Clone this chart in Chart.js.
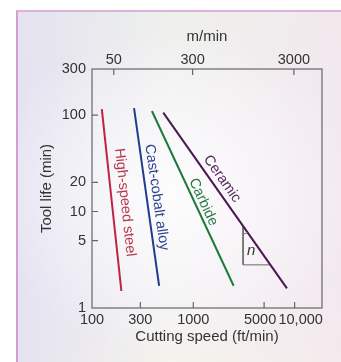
<!DOCTYPE html>
<html>
<head>
<meta charset="utf-8">
<script src="https://cdn.jsdelivr.net/npm/chart.js@4.4.1/dist/chart.umd.min.js"></script>
<style>
html,body{margin:0;padding:0;background:#fff;}
#wrap{position:relative;width:341px;height:362px;overflow:hidden;}
#bg{position:absolute;left:16px;top:10px;width:345px;height:362px;box-sizing:border-box;
  border-left:2px solid #d2a0d0;border-top:2px solid #dcb2da;
  background:
    radial-gradient(ellipse 55% 45% at 45% 50%, rgba(255,255,255,0.85), rgba(255,255,255,0) 100%),
    linear-gradient(to right, rgba(226,224,240,0.85), rgba(240,238,244,0.2) 45%, rgba(243,228,238,0.7)),
    linear-gradient(to bottom, #eef1ea 0%, #f1eff3 40%, #f3f1f2 80%, #f6f5e9 100%);
}
canvas{position:absolute;left:0;top:0;}
</style>
</head>
<body>
<div id="wrap"><div id="bg"></div><canvas id="c" width="341" height="362"></canvas></div>
<script>
// ---- data ----
const seriesNames = ['High-speed steel', 'Cast-cobalt alloy', 'Carbide', 'Ceramic'];
const hssSpeed = [125, 195];        const hssLife = [115, 1.5];
const castSpeed = [260, 460];       const castLife = [118, 1.7];
const carbideSpeed = [390, 2500];   const carbideLife = [110, 1.7];
const ceramicSpeed = [505, 8400];   const ceramicLife = [106, 1.6];
const slopeSpeed = [3100, 3100, 5790];
const slopeLife = [7.1, 2.8, 2.8];
const ftTicks = [100, 300, 1000, 5000, 10000];
const mTicks = [50, 300, 3000];
const lifeTicks = [1, 5, 10, 20, 100, 300];
const speedMin = 100, speedMax = 18640;
const lifeMin = 1, lifeMax = 300;
const ftPerM = 3.2808;

// ---- styles ----
const lineColors = ['#bf2340', '#1f3c8e', '#1d7a3b', '#4b1553'];
const textColors = ['#b8374c', '#2d438e', '#2a7944', '#5a2b60'];
const labelT = [0.52, 0.51, 0.54, 0.41];
const labelOffset = [13, 10, 8, 10];
const FONT = 'Liberation Sans, Arial, sans-serif';

const speeds = [hssSpeed, castSpeed, carbideSpeed, ceramicSpeed];
const lives = [hssLife, castLife, carbideLife, ceramicLife];

const datasets = speeds.map((s, i) => ({
  label: seriesNames[i],
  data: s.map((v, k) => ({x: v, y: lives[i][k]})),
  borderColor: lineColors[i],
  borderWidth: 2,
  pointRadius: 0,
  tension: 0,
  xAxisID: 'x', yAxisID: 'y'
}));
datasets.push({
  label: 'slope',
  data: slopeSpeed.map((v, k) => ({x: v, y: slopeLife[k]})),
  borderColor: '#6a6a6a',
  borderWidth: 1,
  pointRadius: 0,
  tension: 0,
  xAxisID: 'x', yAxisID: 'y'
});

const fixTicks = arr => (scale) => { scale.ticks = arr.map(v => ({value: v})); };
const fmt = v => String(v);
const fmtFt = v => v === 10000 ? '   10,000' : (v === 5000 ? '5000  ' : String(v));

const deco = {
  id: 'deco',
  afterDatasetsDraw(chart) {
    const {ctx, chartArea: a, scales} = chart;
    const x = scales.x, y = scales.y, xm = scales.xm;
    ctx.save();
    // frame
    ctx.strokeStyle = '#666';
    ctx.lineWidth = 1.2;
    ctx.strokeRect(a.left, a.top, a.right - a.left, a.bottom - a.top);
    // inward tick marks
    ctx.beginPath();
    ftTicks.forEach(v => { if (v === speedMin) return; const p = x.getPixelForValue(v); ctx.moveTo(p, a.bottom); ctx.lineTo(p, a.bottom - 6); });
    mTicks.forEach(v => { const p = xm.getPixelForValue(v); ctx.moveTo(p, a.top); ctx.lineTo(p, a.top + 6); });
    lifeTicks.forEach(v => { if (v === lifeMin || v === lifeMax) return; const p = y.getPixelForValue(v); ctx.moveTo(a.left, p); ctx.lineTo(a.left + 6, p); });
    ctx.stroke();

    // series labels along the lines
    ctx.font = '14.5px ' + FONT;
    ctx.textAlign = 'center';
    ctx.textBaseline = 'middle';
    speeds.forEach((s, i) => {
      const x1 = x.getPixelForValue(s[0]), y1 = y.getPixelForValue(lives[i][0]);
      const x2 = x.getPixelForValue(s[1]), y2 = y.getPixelForValue(lives[i][1]);
      const dx = x2 - x1, dy = y2 - y1, len = Math.hypot(dx, dy);
      const fx = x1 + dx * labelT[i], fy = y1 + dy * labelT[i];
      const cx = fx + labelOffset[i] * dy / len, cy = fy - labelOffset[i] * dx / len;
      ctx.save();
      ctx.translate(cx, cy);
      ctx.rotate(Math.atan2(dy, dx));
      ctx.fillStyle = textColors[i];
      ctx.fillText(seriesNames[i], 0, 0);
      ctx.restore();
    });

    // slope angle arc and n
    const vx = x.getPixelForValue(slopeSpeed[0]), vy = y.getPixelForValue(slopeLife[0]);
    const c1x = x.getPixelForValue(ceramicSpeed[0]), c1y = y.getPixelForValue(ceramicLife[0]);
    const c2x = x.getPixelForValue(ceramicSpeed[1]), c2y = y.getPixelForValue(ceramicLife[1]);
    const ang = Math.atan2(c2y - c1y, c2x - c1x);
    ctx.strokeStyle = '#6a6a6a';
    ctx.lineWidth = 1;
    ctx.beginPath();
    ctx.arc(vx, vy, 8, ang, Math.PI / 2);
    ctx.stroke();
    const bx = x.getPixelForValue(slopeSpeed[1]), by = y.getPixelForValue(slopeLife[1]);
    ctx.fillStyle = '#333';
    ctx.font = 'italic 15px ' + FONT;
    ctx.textAlign = 'center';
    ctx.fillText('n', bx + 8, by - 14);
    ctx.restore();
  }
};

Chart.defaults.font.family = FONT;
Chart.defaults.font.size = 14.5;
Chart.defaults.color = '#333';

new Chart(document.getElementById('c'), {
  type: 'line',
  data: {datasets},
  options: {
    responsive: false,
    animation: false,
    devicePixelRatio: 1,
    layout: {padding: {left: 0, right: 19, top: 0, bottom: 0}},
    plugins: {legend: {display: false}, tooltip: {enabled: false}},
    scales: {
      x: {
        type: 'logarithmic', position: 'bottom', min: speedMin, max: speedMax,
        afterBuildTicks: fixTicks(ftTicks),
        afterFit: s => { s.height = 54; },
        grid: {display: false, drawTicks: false},
        border: {display: false},
        ticks: {autoSkip: false, maxRotation: 0, padding: 3, color: '#333', callback: v => fmtFt(v)},
        title: {display: true, text: 'Cutting speed (ft/min)', color: '#333', font: {size: 15}, padding: {top: 0, bottom: 16}}
      },
      xm: {
        type: 'logarithmic', position: 'top', min: speedMin / ftPerM, max: speedMax / ftPerM,
        afterBuildTicks: fixTicks(mTicks),
        afterFit: s => { s.height = 69; },
        grid: {display: false, drawTicks: false},
        border: {display: false},
        ticks: {autoSkip: false, maxRotation: 0, padding: 0, color: '#333', callback: v => fmt(v)},
        title: {display: true, text: 'm/min', color: '#333', font: {size: 15}, padding: {top: 28, bottom: 0}}
      },
      y: {
        type: 'logarithmic', position: 'left', min: lifeMin, max: lifeMax,
        afterBuildTicks: fixTicks(lifeTicks),
        afterFit: s => { s.width = 92; },
        grid: {display: false, drawTicks: false},
        border: {display: false},
        ticks: {autoSkip: false, padding: 6, color: '#333', callback: v => fmt(v)},
        title: {display: true, text: 'Tool life (min)', color: '#333', font: {size: 15}, padding: {top: 38, bottom: 0}}
      }
    }
  },
  plugins: [deco]
});
</script>
</body>
</html>
